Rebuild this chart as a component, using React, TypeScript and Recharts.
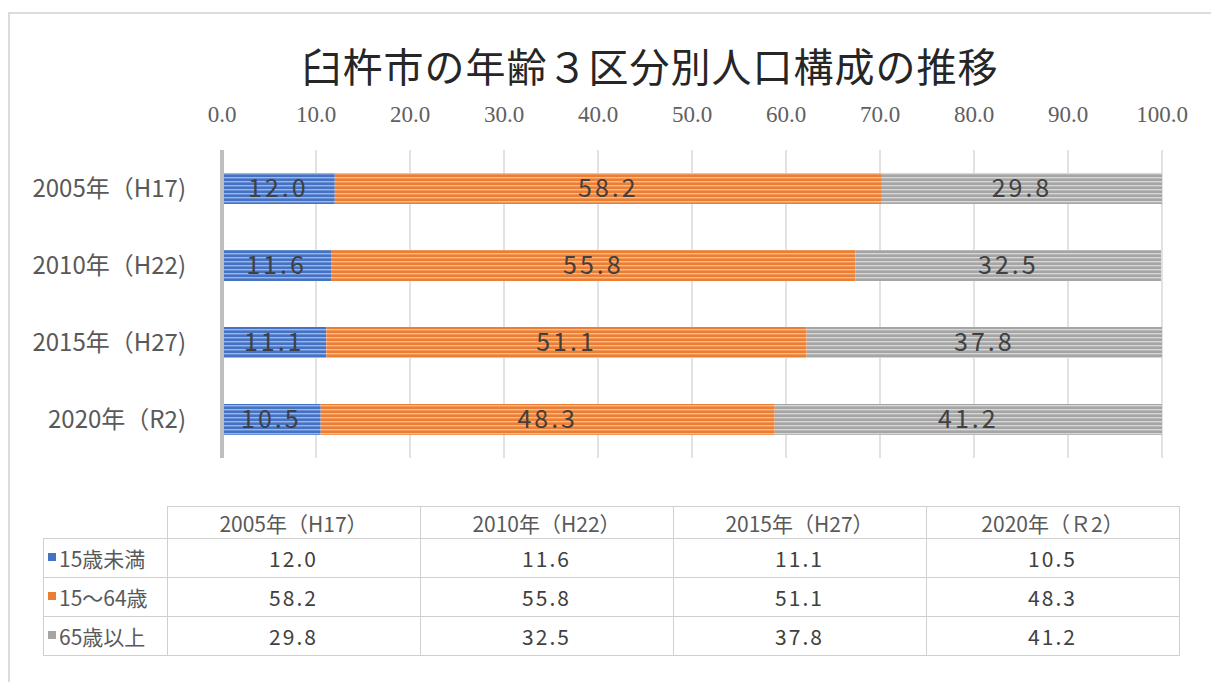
import React from "react";
import {
  BarChart,
  Bar,
  XAxis,
  YAxis,
  CartesianGrid,
  LabelList,
} from "recharts";

const years = ["2005年（H17)", "2010年（H22)", "2015年（H27)", "2020年（R2)"];
const tableYears = ["2005年（H17）", "2010年（H22）", "2015年（H27）", "2020年（Ｒ2）"];
const under15 = [12.0, 11.6, 11.1, 10.5];
const age15to64 = [58.2, 55.8, 51.1, 48.3];
const over65 = [29.8, 32.5, 37.8, 41.2];
const xTicks = [0, 10, 20, 30, 40, 50, 60, 70, 80, 90, 100];

const seriesInfo = [
  { key: "u15", name: "15歳未満", values: under15, color: "#4472C4", line: "#9DB5E4" },
  { key: "mid", name: "15～64歳", values: age15to64, color: "#ED7D31", line: "#F6BC93" },
  { key: "o65", name: "65歳以上", values: over65, color: "#A5A5A5", line: "#D6D6D6" },
];

const data = years.map((y, i) => ({
  name: y,
  u15: under15[i],
  mid: age15to64[i],
  o65: over65[i],
}));

const FONT = "'Noto Sans CJK JP', 'Noto Sans', sans-serif";
const TEXT = "#404040";
const GRID = "#d9d9d9";

const fmt = (v: any) => Number(v).toFixed(1);

export default function App() {
  return (
    <div
      style={{
        position: "absolute",
        left: 0,
        top: 0,
        width: 1211,
        height: 682,
        overflow: "hidden",
        background: "#fff",
        fontFamily: FONT,
      }}
    >
      {/* outer frame */}
      <div
        style={{
          position: "absolute",
          left: 8,
          top: 12,
          width: 1400,
          height: 900,
          borderLeft: "2px solid #dcdcdc",
          borderTop: "2px solid #dcdcdc",
        }}
      />
      <div
        style={{
          position: "absolute",
          left: 0,
          top: 36,
          width: 1300,
          textAlign: "center",
          fontSize: 40,
          color: "#262626",
          letterSpacing: 1,
        }}
      >
        臼杵市の年齢３区分別人口構成の推移
      </div>
      <div style={{ position: "absolute", left: 0, top: 0 }}>
        <BarChart
          width={1211}
          height={480}
          data={data}
          layout="vertical"
          margin={{ top: 80, right: 49, bottom: 22, left: 0 }}
          barSize={31}
        >
          <defs>
            {seriesInfo.map((s) => (
              <pattern
                key={s.key}
                id={`stripe-${s.key}`}
                patternUnits="userSpaceOnUse"
                width={8}
                height={4}
              >
                <rect x={0} y={0} width={8} height={4} fill={s.color} />
                <rect x={0} y={1} width={8} height={1.4} fill={s.line} />
              </pattern>
            ))}
          </defs>
          <CartesianGrid horizontal={false} stroke={GRID} strokeWidth={1.5} />
          <XAxis
            type="number"
            orientation="top"
            domain={[0, 100]}
            ticks={xTicks}
            tickFormatter={fmt}
            height={70}
            axisLine={false}
            tickLine={false}
            tickMargin={22}
            interval={0}
            tick={{
              fontSize: 23,
              fill: "#606060",
              fontFamily: "'Liberation Serif', 'DejaVu Serif', serif",
            }}
          />
          <YAxis
            type="category"
            dataKey="name"
            width={222}
            axisLine={{ stroke: "#bfbfbf", strokeWidth: 4 }}
            tickLine={false}
            tickMargin={30}
            tick={{ fontSize: 24, fill: "#595959", fontFamily: FONT }}
          />
          {seriesInfo.map((s) => (
            <Bar
              key={s.key}
              dataKey={s.key}
              name={s.name}
              stackId="a"
              fill={`url(#stripe-${s.key})`}
              isAnimationActive={false}
            >
              <LabelList
                dataKey={s.key}
                position="center"
                formatter={fmt}
                style={{ fontSize: 25, fill: TEXT, fontFamily: FONT, letterSpacing: 3 }}
              />
            </Bar>
          ))}
        </BarChart>
      </div>
      {/* data table */}
      <table
        style={{
          position: "absolute",
          left: 43,
          top: 506,
          borderCollapse: "collapse",
          fontSize: 20,
          color: TEXT,
          fontFamily: FONT,
        }}
      >
        <tbody>
          <tr style={{ height: 32 }}>
            <td style={{ width: 123, padding: 0 }} />
            {tableYears.map((y) => (
              <td
                key={y}
                style={{
                  width: 252,
                  border: "1.5px solid #d0d0d0",
                  textAlign: "center",
                  padding: 0,
                  color: "#595959",
                  fontSize: 21,
                }}
              >
                {y}
              </td>
            ))}
          </tr>
          {seriesInfo.map((s) => (
            <tr key={s.key} style={{ height: 39 }}>
              <td
                style={{
                  border: "1.5px solid #d0d0d0",
                  padding: "0 0 0 4px",
                  whiteSpace: "nowrap",
                  color: "#595959",
                  fontSize: 21,
                }}
              >
                <span
                  style={{
                    display: "inline-block",
                    width: 8,
                    height: 8,
                    background: s.color,
                    marginRight: 3,
                    verticalAlign: "middle",
                    position: "relative",
                    top: -4,
                  }}
                />
                {s.name}
              </td>
              {s.values.map((v, i) => (
                <td
                  key={i}
                  style={{
                    border: "1.5px solid #d0d0d0",
                    textAlign: "center",
                    padding: 0,
                    letterSpacing: 2,
                    fontSize: 21,
                  }}
                >
                  {v.toFixed(1)}
                </td>
              ))}
            </tr>
          ))}
        </tbody>
      </table>
    </div>
  );
}
